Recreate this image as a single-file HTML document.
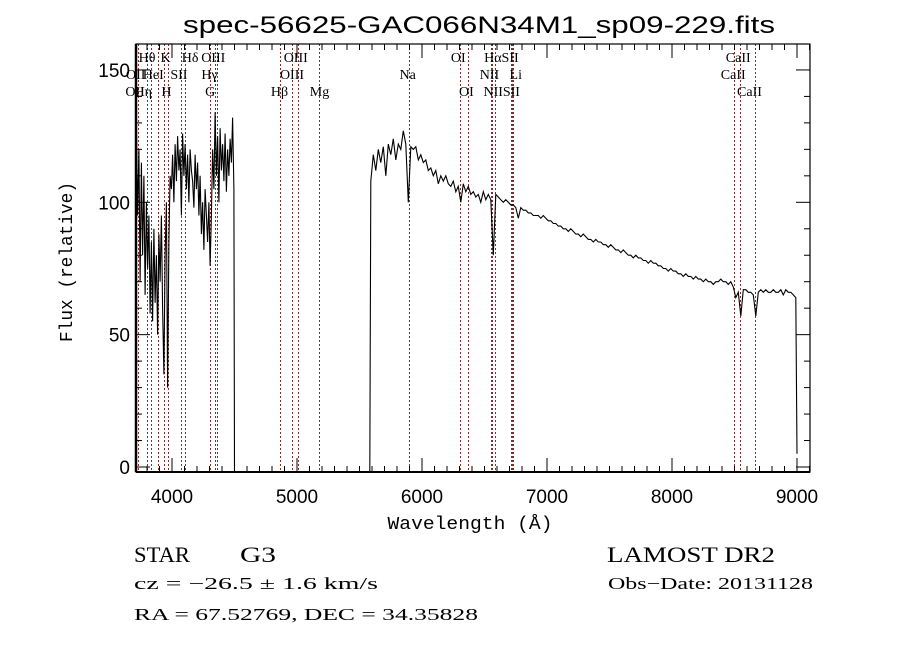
<!DOCTYPE html>
<html><head><meta charset="utf-8"><style>
html,body{margin:0;padding:0;background:#fff;width:900px;height:649px;overflow:hidden}
svg{display:block}
text{fill:#000}
</style></head><body>
<svg id="chart" width="900" height="649" viewBox="0 0 900 649" xmlns="http://www.w3.org/2000/svg">
<rect width="900" height="649" fill="#fff"/>
<text x="183" y="33" font-family="Liberation Sans, sans-serif" font-size="24" textLength="592" lengthAdjust="spacingAndGlyphs">spec-56625-GAC066N34M1_sp09-229.fits</text>
<g id="lines"></g>
<g id="labels" font-family="Liberation Serif, serif" font-size="14"></g>
<path id="spec" fill="none" stroke="#000" stroke-width="1.1"/>
<g id="axes"></g>
<text x="470" y="529" text-anchor="middle" font-family="Liberation Mono, monospace" font-size="18" textLength="165" lengthAdjust="spacingAndGlyphs">Wavelength (Å)</text>
<text transform="translate(72,262) rotate(-90)" text-anchor="middle" font-family="Liberation Mono, monospace" font-size="18" textLength="160" lengthAdjust="spacingAndGlyphs">Flux (relative)</text>
<g font-family="Liberation Serif, serif">
<text x="134" y="562" font-size="22" textLength="56" lengthAdjust="spacingAndGlyphs">STAR</text>
<text x="240" y="562" font-size="22" textLength="36" lengthAdjust="spacingAndGlyphs">G3</text>
<text x="607" y="562" font-size="22" textLength="168" lengthAdjust="spacingAndGlyphs">LAMOST DR2</text>
<text x="134" y="589" font-size="17" textLength="244" lengthAdjust="spacingAndGlyphs">cz = −26.5 ± 1.6 km/s</text>
<text x="608" y="589" font-size="17" textLength="205" lengthAdjust="spacingAndGlyphs">Obs−Date: 20131128</text>
<text x="134" y="620" font-size="17" textLength="344" lengthAdjust="spacingAndGlyphs">RA =  67.52769, DEC =  34.35828</text>
</g>
</svg>
<script>
// Data
const blueStart = 3715, blueStep = 10;
const blueFlux = [130,95,120,70,115,80,110,65,100,75,95,58,85,55,90,62,80,50,88,70,95,60,35,80,100,30,85,110,105,118,100,122,108,125,112,120,95,126,110,122,105,118,100,120,112,108,98,118,105,115,95,110,88,100,82,105,95,85,100,76,95,120,105,134,110,125,100,128,112,122,108,126,104,120,110,124,115,132,105];
const blueEnd = [[4500,-2],[5582,-2]];
const redStart = 5590, redStep = 20;
const redFlux = [
108,118,112,120,115,121,110,122,118,124,
116,122,120,127,122,100,121,120,121,116,
118,115,116,112,113,110,112,107,110,108,
110,107,106,108,104,106,100,107,104,106,
103,104,102,103,100,104,101,103,101,80,
103,102,101,100,101,100,99,99,98,94,
98,97,97,96,96,95,95,95,94,95,
94,93,93,92,92,91,91,90,90,89,
90,89,88,88,87,88,87,86,86,85,
86,85,85,84,84,83,84,83,82,82,
81,82,81,80,80,79,80,79,79,78,
78,77,78,77,77,76,76,75,75,74,
75,74,74,73,73,72,73,72,72,71,
72,71,71,70,71,70,70,69,70,70,
71,70,70,69,70,68,64,66,57,67,
67,66,66,65,57,66,67,66,67,66,
66,67,66,66,67,65,67,66,66,65,
64];
const redEnd = [[9000,5]];
const xTicks = [4000,5000,6000,7000,8000,9000];
const yTicks = [0,50,100,150];
const lineWaves = [3727,3798,3835,3889,3934,3968,4072,4102,4304,4341,4363,4861,4959,5007,5175,5893,6300,6364,6548,6563,6583,6708,6716,6731,8498,8542,8662];
const labelText = ["Hθ","K","Hδ","OIII","OIII","OI","HαSII","CaII","OII","HeI","SII","Hγ","OIII","Na","NII","Li","CaII","OII","Hη","H","G","Hβ","Mg","OI","NII","SII","CaII"];
const labelWave = [3800,3948,4145,4330,4990,6290,6635,8530,3710,3850,4055,4300,4960,5885,6540,6750,8490,3705,3770,3955,4305,4860,5180,6355,6570,6715,8620];
const labelRow = [0,0,0,0,0,0,0,0,1,1,1,1,1,1,1,1,1,2,2,2,2,2,2,2,2,2,2];

// Axis functions
const X0=136,X1=810,Y0=44,Y1=472;
const xs = w => 172 + (w-4000)*0.125;
const ys = f => 467 - f*2.647;
const NS='http://www.w3.org/2000/svg';
function mk(tag, attrs, parent){const e=document.createElementNS(NS,tag);for(const k in attrs)e.setAttribute(k,attrs[k]);parent.appendChild(e);return e;}

const lg=document.getElementById('lines');
lineWaves.forEach(w=>{
  const l=mk('line',{x1:Math.round(xs(w))+0.5,x2:Math.round(xs(w))+0.5,y1:Y0,y2:Y1,stroke:'#8b2a2a','stroke-width':1,'stroke-dasharray':'2,2'},lg);
  
  
});
const lb=document.getElementById('labels');
labelText.forEach((t,i)=>{
  const e=mk('text',{x:xs(labelWave[i]),y:62+labelRow[i]*17,'text-anchor':'middle'},lb);
  e.textContent=t;
  
  
});

let pts=[];
blueFlux.forEach((f,i)=>pts.push([blueStart+i*blueStep,f]));
blueEnd.forEach(p=>pts.push(p));
redFlux.forEach((f,i)=>pts.push([redStart+i*redStep,f]));
redEnd.forEach(p=>pts.push(p));
document.getElementById('spec').setAttribute('d',pts.map((p,i)=>(i?'L':'M')+xs(p[0]).toFixed(1)+','+ys(p[1]).toFixed(1)).join(''));

const ax=document.getElementById('axes');
mk('rect',{x:X0,y:Y0,width:X1-X0,height:Y1-Y0,fill:'none',stroke:'#000','stroke-width':1.2},ax);
mk('line',{x1:X0,x2:X0,y1:Y0,y2:Y1,stroke:'#000','stroke-width':2.5},ax);
mk('line',{x1:X0,x2:X1,y1:Y1,y2:Y1,stroke:'#000','stroke-width':2},ax);
for(let w=3800;w<=9100;w+=100){
  const maj=w%1000===0, len=maj?14:6, x=xs(w);
  if(x<=X0||x>=X1)continue;
  mk('line',{x1:x,x2:x,y1:Y1,y2:Y1-len,stroke:'#000','stroke-width':1},ax);
  mk('line',{x1:x,x2:x,y1:Y0,y2:Y0+len,stroke:'#000','stroke-width':1},ax);
}
for(let f=0;f<=150;f+=10){
  const maj=f%50===0,len=maj?14:6,y=ys(f);
  mk('line',{x1:X0,x2:X0+len,y1:y,y2:y,stroke:'#000','stroke-width':1},ax);
  mk('line',{x1:X1,x2:X1-len,y1:y,y2:y,stroke:'#000','stroke-width':1},ax);
}
xTicks.forEach(w=>{
  const t=mk('text',{x:xs(w),y:503,'text-anchor':'middle','font-family':'Liberation Sans, sans-serif','font-size':19},ax);
  t.textContent=w;
  
  
});
yTicks.forEach(f=>{
  const t=mk('text',{x:130,y:ys(f)+7,'text-anchor':'end','font-family':'Liberation Sans, sans-serif','font-size':19},ax);
  t.textContent=f;
  
  
});
</script>
</body></html>
